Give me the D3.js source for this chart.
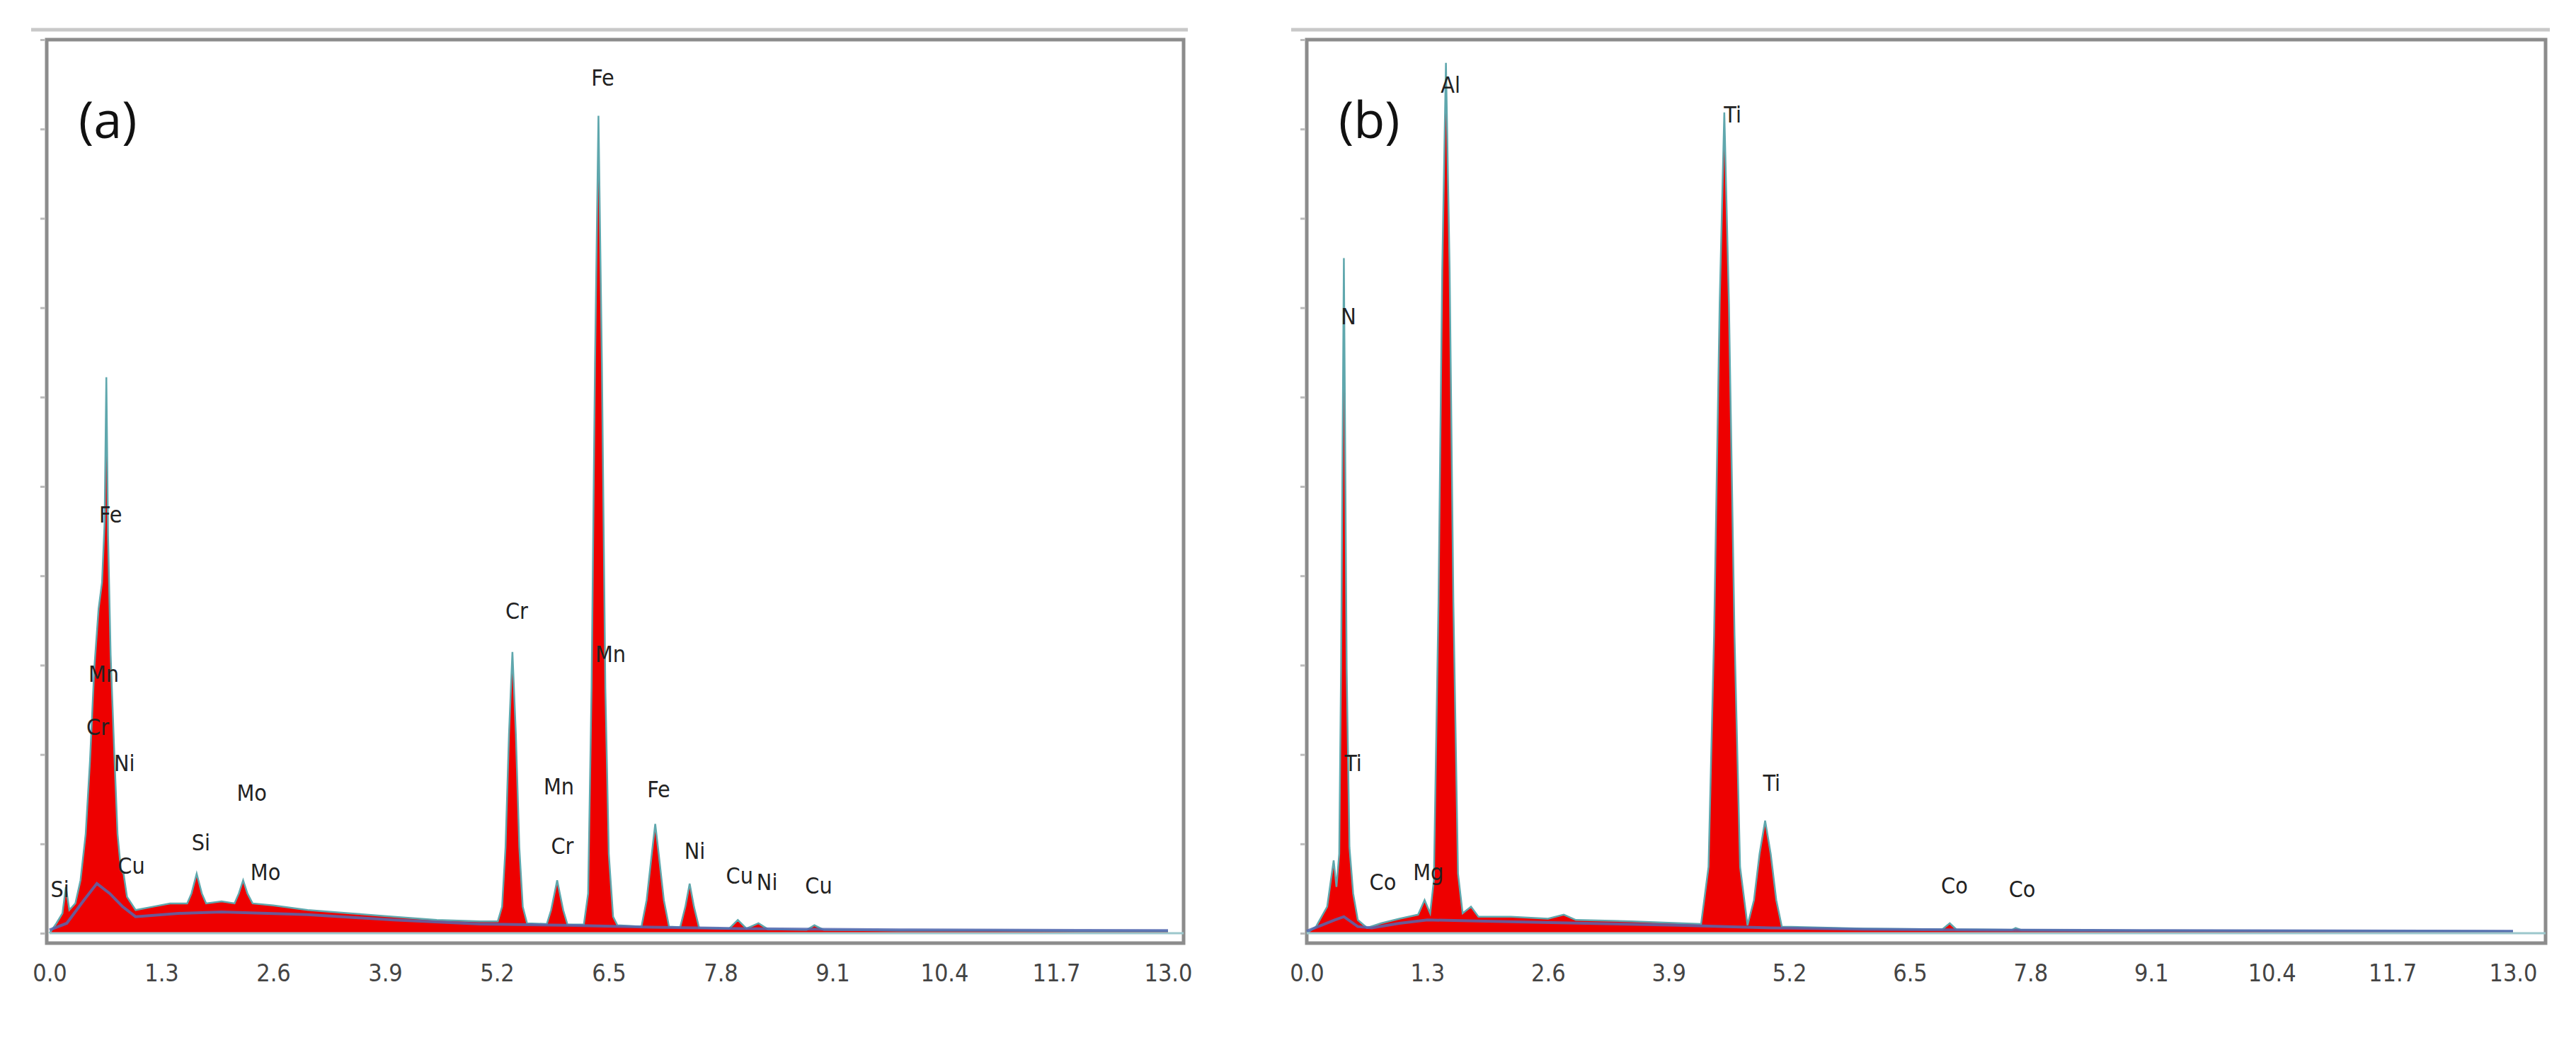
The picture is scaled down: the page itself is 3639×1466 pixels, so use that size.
<!DOCTYPE html>
<html><head><meta charset="utf-8">
<script src="https://cdn.jsdelivr.net/npm/d3@7"></script>
<style>body{margin:0;background:#fff}</style></head>
<body><svg id="c" width="3639" height="1466"></svg>
<script>
const tickLabels = ["0.0","1.3","2.6","3.9","5.2","6.5","7.8","9.1","10.4","11.7","13.0"];
const spectrumA = [[0,0],[0.08,15],[0.15,30],[0.19,70],[0.23,35],[0.3,45],[0.36,80],[0.42,150],[0.47,260],[0.52,400],[0.57,490],[0.61,530],[0.64,620],[0.66,840],[0.68,600],[0.71,420],[0.75,280],[0.79,150],[0.83,95],[0.86,90],[0.9,55],[1.0,35],[1.2,40],[1.4,45],[1.6,45],[1.65,60],[1.71,90],[1.77,60],[1.82,45],[2.0,48],[2.15,45],[2.2,60],[2.25,80],[2.3,60],[2.36,45],[2.6,42],[3.0,35],[3.5,30],[4.0,25],[4.5,20],[5.0,18],[5.21,18],[5.26,40],[5.3,130],[5.34,300],[5.38,425],[5.42,300],[5.46,130],[5.5,40],[5.55,15],[5.78,14],[5.83,35],[5.9,80],[5.97,35],[6.02,13],[6.21,13],[6.26,60],[6.3,370],[6.34,860],[6.38,1235],[6.42,860],[6.46,370],[6.5,120],[6.55,25],[6.6,12],[6.88,10],[6.94,50],[7.0,120],[7.04,165],[7.08,120],[7.14,50],[7.2,10],[7.33,9],[7.39,40],[7.44,75],[7.49,40],[7.55,8],[7.9,7],[8.0,20],[8.1,7],[8.24,15],[8.35,6],[8.8,5],[8.89,12],[9.0,5],[10,4],[11,4],[12,3],[13,3]];
const backgroundA = [[0,5],[0.2,15],[0.4,50],[0.55,75],[0.7,60],[0.85,40],[1.0,25],[1.5,30],[2.0,32],[3,28],[4,20],[5,14],[6,12],[7,9],[8,7],[9,6],[10,5],[13,4]];
const labelsA = [["Fe",6.43,1280],["Fe",0.71,620],["Mn",0.63,380],["Cr",0.56,300],["Ni",0.87,245],["Cu",0.95,90],["Si",0.12,55],["Si",1.76,125],["Mo",2.35,200],["Mo",2.51,80],["Cr",5.43,475],["Mn",5.92,210],["Cr",5.96,120],["Mn",6.52,410],["Fe",7.08,205],["Ni",7.5,112],["Cu",8.02,75],["Ni",8.34,65],["Cu",8.94,60]];
const spectrumB = [[0,0],[0.1,10],[0.22,40],[0.26,80],[0.29,110],[0.32,70],[0.35,120],[0.37,400],[0.40,1020],[0.43,400],[0.46,130],[0.5,60],[0.55,20],[0.65,8],[0.8,15],[1.0,22],[1.2,28],[1.27,50],[1.33,30],[1.37,80],[1.42,500],[1.46,1000],[1.5,1315],[1.54,1000],[1.58,500],[1.63,90],[1.68,30],[1.77,40],[1.85,25],[2.2,25],[2.6,22],[2.77,28],[2.9,20],[3.5,18],[4.25,14],[4.33,100],[4.39,450],[4.45,950],[4.5,1240],[4.55,950],[4.61,450],[4.67,100],[4.75,12],[4.82,50],[4.88,120],[4.94,170],[5.0,120],[5.06,50],[5.12,10],[6,7],[6.85,6],[6.93,15],[7.0,6],[7.6,5],[7.64,8],[7.7,5],[9,4],[13,3]];
const backgroundB = [[0,3],[0.3,20],[0.4,25],[0.55,10],[0.7,8],[1.0,15],[1.3,20],[2,18],[3,15],[4,12],[5,8],[6,6],[7,5],[9,4],[13,3]];
const labelsB = [["Al",1.55,1270],["Ti",4.59,1225],["N",0.45,920],["Ti",0.5,245],["Co",0.82,65],["Mg",1.31,80],["Ti",5.01,215],["Co",6.98,60],["Co",7.71,55]];

const svg = d3.select("#c");
svg.append("rect").attr("width",3639).attr("height",1466).attr("fill","#fff");
const font = "'Liberation Sans Narrow','DejaVu Sans Condensed',sans-serif";

function panel(cfg){
  const g = svg.append("g");
  const x = d3.scaleLinear().domain([0,13]).range([cfg.x0,cfg.x1]);
  const y = d3.scaleLinear().domain([0,1350]).range([1318,56]);
  g.append("line").attr("x1",cfg.fl-22).attr("x2",cfg.fr+6).attr("y1",42).attr("y2",42).attr("stroke","#c8c8c8").attr("stroke-width",5);
  g.append("rect").attr("x",cfg.fl).attr("y",56).attr("width",cfg.fr-cfg.fl).attr("height",1332-56)
    .attr("fill","#fff").attr("stroke","#8c8c8c").attr("stroke-width",5);
  const area = d3.area().x(d=>x(d[0])).y0(y(0)).y1(d=>y(d[1]));
  const line = d3.line().x(d=>x(d[0])).y(d=>y(d[1]));
  g.append("path").datum(cfg.spec).attr("d",area).attr("fill","#ee0000");
  g.append("path").datum(cfg.spec).attr("d",line).attr("fill","none").attr("stroke","#5fa7ad").attr("stroke-width",2.5);
  g.append("path").datum(cfg.bg).attr("d",line).attr("fill","none").attr("stroke","#5468b0").attr("stroke-width",4).attr("opacity",0.85);
  g.append("line").attr("x1",x(0)).attr("x2",cfg.fr).attr("y1",y(0)).attr("y2",y(0)).attr("stroke","#9cc7cc").attr("stroke-width",3);
  const ya = d3.axisLeft(d3.scaleLinear().domain([0,10]).range([1318,56])).ticks(10).tickSize(6).tickFormat("");
  const ag = g.append("g").attr("transform",`translate(${cfg.fl-3},0)`).call(ya);
  ag.select(".domain").remove(); ag.selectAll("line").attr("stroke","#bbb").attr("stroke-width",3);
  const xa = d3.axisBottom(x).tickValues(d3.range(11).map(i=>i*1.3)).tickSize(0).tickFormat((d,i)=>tickLabels[i]);
  const xg = g.append("g").attr("transform","translate(0,1352)").call(xa);
  xg.select(".domain").remove();
  xg.selectAll("text").attr("font-family",font).attr("font-size",34).attr("fill","#444").attr("dy","0.9em");
  g.selectAll("text.el").data(cfg.labels).join("text").attr("class","el")
    .attr("x",d=>x(d[1])).attr("y",d=>y(d[2])).attr("text-anchor","middle")
    .attr("font-family",font).attr("font-size",32).attr("fill","#222").text(d=>d[0]);
  g.append("text").attr("x",cfg.fl+45).attr("y",195).attr("font-family","'Open Sans',sans-serif")
    .attr("font-size",72).attr("fill","#111").text(cfg.tag);
}
panel({x0:70,x1:1650,fl:66,fr:1672,spec:spectrumA,bg:backgroundA,labels:labelsA,tag:"(a)"});
panel({x0:1846,x1:3550,fl:1846,fr:3596,spec:spectrumB,bg:backgroundB,labels:labelsB,tag:"(b)"});
</script></body></html>
